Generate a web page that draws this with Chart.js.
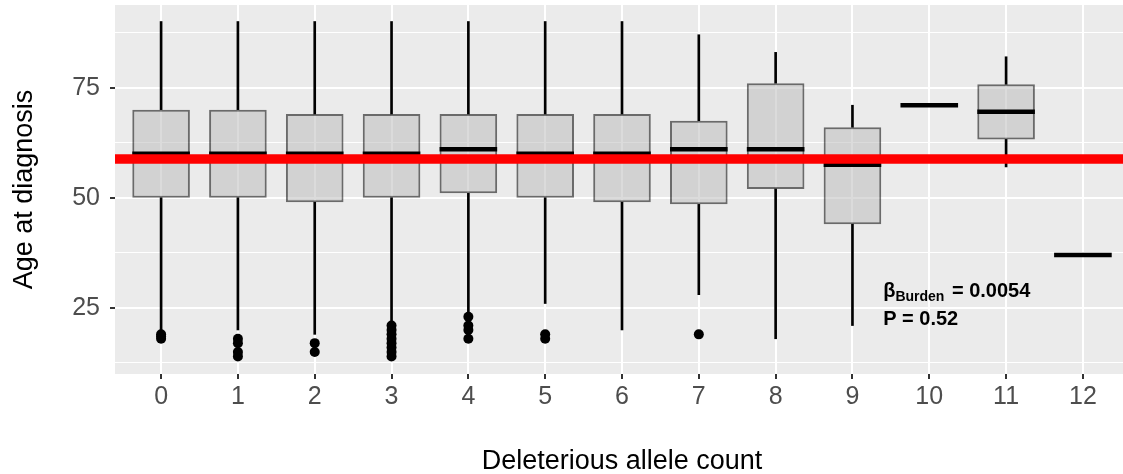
<!DOCTYPE html>
<html>
<head>
<meta charset="utf-8">
<title>Age at diagnosis by deleterious allele count</title>
<script src="https://cdn.jsdelivr.net/npm/chart.js"></script>
<style>
  html, body { margin: 0; padding: 0; background: #fff; overflow: hidden; }
  /* panel runs a few px past the right edge in the original, so the canvas is a bit wider than the window */
  #wrap { position: relative; width: 1135px; height: 474px; }
</style>
</head>
<body>
<div id="wrap"><canvas id="boxChart"></canvas></div>
<script>
// values
const alleleCounts = [0, 1, 2, 3, 4, 5, 6, 7, 8, 9, 10, 11, 12];
const q1          = [50, 50, 49, 50, 51, 50, 49, 48.5, 52, 44, null, 63.25, null];
const q3          = [70, 70, 69, 69, 69, 69, 69, 67.5, 76, 66, null, 75.75, null];
const medians     = [60, 60, 60, 60, 61, 60, 60, 61, 61, 57.5, 71, 69.5, 37];
const whiskerLow  = [20, 20, 19, 22, 24, 26, 20, 28, 18, 21, null, 57, null];
const whiskerHigh = [90, 90, 90, 90, 90, 90, 90, 87, 83, 71, null, 82, null];
const outlierAges = [
  [19, 18.5, 18],
  [18, 17, 15, 14],
  [17, 15],
  [21, 20, 19, 18, 17, 16, 15, 14],
  [23, 21, 20, 18],
  [19, 18],
  [], [19], [], [], [], [], []
];
const overallAge = 58.8;          // red reference line
const yTickValues = [12.5, 25, 37.5, 50, 62.5, 75, 87.5];
const xLimits = [-0.6, 12.6];
const yLimits = [10, 93.75];

const xTitle = 'Deleterious allele count';
const yTitle = 'Age at diagnosis';
const statText = { beta: '0.0054', p: '0.52' };
const statPos = { x: 9.4, y: 25 };

const FONT = '"Liberation Sans", Arial, Helvetica, sans-serif';
const BOX_WIDTH = 0.75;

const hasBox = i => q1[i] != null;
const boxData = alleleCounts.filter((c, i) => hasBox(i)).map(c => ({ x: c, y: [q1[c], q3[c]] }));
const lowWhiskers = alleleCounts.filter((c, i) => hasBox(i)).map(c => ({ x: c, y: [whiskerLow[c], q1[c]] }));
const highWhiskers = alleleCounts.filter((c, i) => hasBox(i)).map(c => ({ x: c, y: [q3[c], whiskerHigh[c]] }));
const medianData = alleleCounts.map((c, i) => ({ x: c, y: medians[i] }));
const outlierData = alleleCounts.flatMap((c, i) => outlierAges[i].map(a => ({ x: c, y: a })));

// half a box width in pixels, taken from the x scale
function halfBoxPx(chart) {
  const x = chart.scales.x;
  return x.getPixelForValue(BOX_WIDTH / 2) - x.getPixelForValue(0);
}

const panelBg = {
  id: 'panelBg',
  beforeDraw(chart) {
    const { ctx, chartArea: a } = chart;
    ctx.save();
    ctx.fillStyle = '#ebebeb';
    ctx.fillRect(a.left, a.top, a.right - a.left, a.bottom - a.top);
    ctx.restore();
  }
};

const textLayer = {
  id: 'textLayer',
  afterDraw(chart) {
    const { ctx, chartArea: a, scales: { x, y } } = chart;
    ctx.save();
    ctx.fillStyle = '#000';
    ctx.textBaseline = 'alphabetic';

    // axis titles
    ctx.font = `27px ${FONT}`;
    ctx.textAlign = 'center';
    ctx.fillText(xTitle, (a.left + a.right) / 2, 469);
    ctx.save();
    ctx.translate(32, (a.top + a.bottom) / 2);
    ctx.rotate(-Math.PI / 2);
    ctx.fillText(yTitle, 0, 0);
    ctx.restore();

    // beta / p annotation
    const ax = x.getPixelForValue(statPos.x);
    const ay = y.getPixelForValue(statPos.y);
    ctx.textAlign = 'left';
    ctx.font = `bold 20px ${FONT}`;
    ctx.fillText('β', ax, ay - 11);
    let w = ctx.measureText('β').width;
    ctx.font = `bold 14px ${FONT}`;
    ctx.fillText('Burden', ax + w, ay - 7);
    w += ctx.measureText('Burden').width;
    ctx.font = `bold 20px ${FONT}`;
    ctx.fillText(' = ' + statText.beta, ax + w + 2, ay - 11);
    ctx.fillText('P = ' + statText.p, ax, ay + 17);
    ctx.restore();
  }
};

new Chart(document.getElementById('boxChart'), {
  type: 'bar',
  data: {
    datasets: [
      {
        type: 'line',
        data: [{ x: xLimits[0], y: overallAge }, { x: xLimits[1], y: overallAge }],
        borderColor: '#ff0000',
        borderWidth: 9.3,
        pointRadius: 0,
        fill: false,
        order: 0
      },
      {
        type: 'scatter',
        data: medianData,
        pointStyle: 'line',
        pointRadius: c => halfBoxPx(c.chart),
        pointBorderWidth: 4.5,
        pointBorderColor: '#000',
        pointBackgroundColor: '#000',
        order: 1
      },
      {
        type: 'scatter',
        data: outlierData,
        pointStyle: 'circle',
        pointRadius: 5,
        pointBorderWidth: 0,
        pointBackgroundColor: '#000',
        order: 1
      },
      {
        data: boxData,
        backgroundColor: 'rgba(190,190,190,0.55)',
        borderColor: 'rgba(0,0,0,0.55)',
        borderWidth: 2,
        borderSkipped: false,
        grouped: false,
        barPercentage: BOX_WIDTH,
        categoryPercentage: 1,
        order: 2
      },
      {
        data: lowWhiskers,
        backgroundColor: '#000',
        barThickness: 2,
        grouped: false,
        order: 3
      },
      {
        data: highWhiskers,
        backgroundColor: '#000',
        barThickness: 2,
        grouped: false,
        order: 3
      }
    ]
  },
  options: {
    responsive: true,
    maintainAspectRatio: false,
    animation: false,
    events: [],
    layout: { padding: { top: 4, right: 6, bottom: 0, left: 0 } },
    plugins: { legend: { display: false }, tooltip: { enabled: false } },
    scales: {
      x: {
        type: 'linear',
        offset: false,
        min: xLimits[0],
        max: xLimits[1],
        afterBuildTicks: s => { s.ticks = alleleCounts.map(v => ({ value: v })); },
        afterFit: s => { s.height = 100; s.paddingLeft = 0; s.paddingRight = 0; },
        border: { display: false },
        grid: { offset: false, color: '#fff', lineWidth: 2, tickLength: 5, tickColor: '#333', tickWidth: 2 },
        ticks: {
          autoSkip: false,
          maxRotation: 0,
          padding: 3,
          color: '#4d4d4d',
          font: { family: FONT, size: 25 },
          callback: v => String(v)
        }
      },
      y: {
        type: 'linear',
        min: yLimits[0],
        max: yLimits[1],
        afterBuildTicks: s => { s.ticks = yTickValues.map(v => ({ value: v })); },
        afterFit: s => { s.width = 115; s.paddingTop = 0; s.paddingBottom = 0; },
        border: { display: false },
        grid: {
          color: '#fff',
          lineWidth: c => (c.tick && c.tick.value % 25 === 0) ? 2 : 1,
          tickLength: 5,
          tickWidth: 2,
          tickColor: c => (c.tick && c.tick.value % 25 === 0) ? '#333' : 'rgba(0,0,0,0)'
        },
        ticks: {
          padding: 10,
          color: '#4d4d4d',
          font: { family: FONT, size: 25 },
          callback: v => (v % 25 === 0 ? String(v) : '')
        }
      }
    }
  },
  plugins: [panelBg, textLayer]
});
</script>
</body>
</html>
